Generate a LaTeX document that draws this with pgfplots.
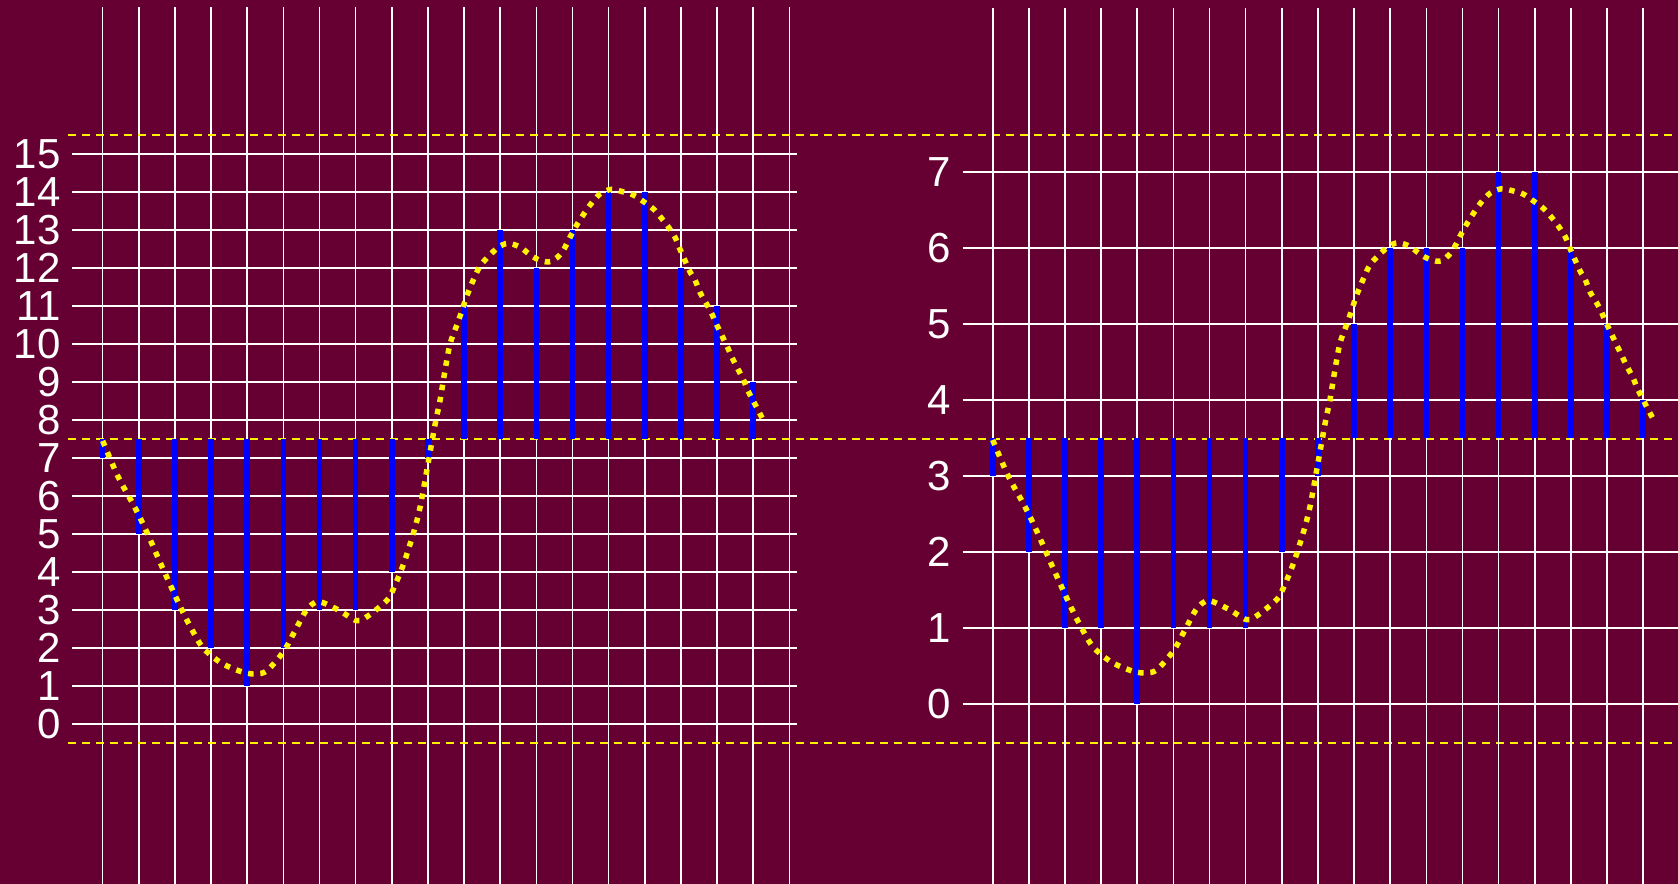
\documentclass[border=0pt]{standalone}
\usepackage{fontspec}
\setmainfont{Liberation Sans}
\usepackage{pgfplots}
\pgfplotsset{compat=1.18}
\usepackage{pgfplotstable}
\definecolor{bgcol}{RGB}{102,0,51}

\pgfplotstableread{
i v
0 7
1 5
2 3
3 2
4 1
5 2
6 3
7 3
8 4
9 7
10 11
11 13
12 12
13 13
14 14
15 14
16 12
17 11
18 9
}\leftbars

\pgfplotstableread{
i v
0 3
1 2
2 1
3 1
4 0
5 1
6 1
7 1
8 2
9 3
10 5
11 6
12 6
13 6
14 7
15 7
16 6
17 5
18 4
}\rightbars

\pgfplotstableread{
x y
0.0 7.45
0.43 6.5
0.89 5.7
1.22 5.05
1.59 4.25
2.14 3.1
2.46 2.5
2.78 2.0
3.29 1.6
3.89 1.36
4.24 1.32
4.54 1.4
5.0 1.9
5.32 2.45
5.64 3.0
5.97 3.22
6.52 3.0
7.03 2.72
7.35 2.85
7.86 3.25
8.04 3.55
8.32 4.2
8.59 5.0
8.78 5.7
9.01 6.9
9.2 7.9
9.33 8.5
9.47 9.3
9.61 10.0
9.8 10.5
9.93 10.85
10.07 11.25
10.26 11.7
10.44 12.05
10.67 12.3
10.95 12.55
11.22 12.65
11.55 12.55
11.82 12.35
12.1 12.2
12.4 12.17
12.7 12.4
12.98 12.9
13.16 13.2
13.48 13.65
13.76 13.95
14.08 14.07
14.41 14.0
14.68 13.92
14.96 13.75
15.24 13.55
15.47 13.3
15.65 13.08
15.84 12.8
15.97 12.5
16.25 11.9
16.39 11.68
16.53 11.35
16.71 11.05
16.85 10.8
16.99 10.5
17.27 9.95
17.41 9.65
17.54 9.4
17.71 9.1
17.84 8.8
18.0 8.5
18.14 8.25
18.3 7.95
}\leftcurve

\pgfplotstableread{
x y
0.0 3.475
0.43 3.0
0.89 2.6
1.22 2.275
1.59 1.875
2.14 1.3
2.46 1.0
2.78 0.75
3.29 0.55
3.89 0.43
4.24 0.41
4.54 0.45
5.0 0.7
5.32 0.975
5.64 1.25
5.97 1.36
6.52 1.25
7.03 1.11
7.35 1.175
7.86 1.375
8.04 1.525
8.32 1.85
8.59 2.25
8.78 2.6
9.01 3.2
9.2 3.7
9.33 4.0
9.47 4.4
9.61 4.75
9.8 5.0
9.93 5.18
10.07 5.38
10.26 5.6
10.44 5.78
10.67 5.9
10.95 6.02
11.22 6.07
11.55 6.02
11.82 5.92
12.1 5.85
12.4 5.83
12.7 5.95
12.98 6.2
13.16 6.35
13.48 6.58
13.76 6.72
14.08 6.78
14.41 6.75
14.68 6.71
14.96 6.62
15.24 6.52
15.47 6.4
15.65 6.29
15.84 6.15
15.97 6.0
16.25 5.7
16.39 5.59
16.53 5.42
16.71 5.28
16.85 5.15
16.99 5.0
17.27 4.72
17.41 4.58
17.54 4.45
17.71 4.3
17.84 4.15
18.0 4.0
18.14 3.87
18.3 3.73
}\rightcurve

\pgfplotsset{
  panel/.style={
    anchor=south west,
    scale only axis,
    width=362.5pt, height=438.25pt,
    xtick={0,...,19}, xticklabels={},
    grid=major,
    grid style={white, line width=0.8pt},
    axis line style={draw=none},
    major tick length=0pt,
    yticklabel style={font=\fontsize{21}{25}\selectfont, text=white,
      xshift=-2.2pt, inner ysep=0pt},
    /pgf/number format/assume math mode=true,
    clip=false,
  },
  bars/.style={blue, line width=2.8pt},
  curve/.style={yellow, line width=2.75pt, smooth, dash pattern=on 2.75pt off 3.4pt},
  ref/.style={yellow, line width=1pt, dash pattern=on 4pt off 3pt},
}

\begin{document}
\begin{tikzpicture}
\path[use as bounding box] (0,0) rectangle (839pt,442pt);
\fill[bgcol] (0,0) rectangle (839pt,442pt);
\clip (0,0) rectangle (839pt,442pt);

\begin{axis}[panel, at={(36pt,0pt)},
  xmin=-0.849, xmax=19.21, ymin=-4.21, ymax=18.855,
  ytick={0,...,15}]
  \addplot[ref] coordinates {(-0.96,15.5) (43.42,15.5)};
  \addplot[ref] coordinates {(-0.96,7.5) (43.42,7.5)};
  \addplot[ref] coordinates {(-0.96,-0.5) (43.42,-0.5)};
  \addplot[bars, quiver={u=0, v=\thisrow{v}-7.5}] table[x=i, y expr=7.5] {\leftbars};
  \addplot[curve] table[x=x, y=y] {\leftcurve};
\end{axis}

\begin{axis}[panel, at={(481.35pt,0pt)},
  xmin=-0.83, xmax=19.23, ymin=-2.368, ymax=9.165,
  ytick={0,...,7}]
  \addplot[bars, quiver={u=0, v=\thisrow{v}-3.5}] table[x=i, y expr=3.5] {\rightbars};
  \addplot[curve] table[x=x, y=y] {\rightcurve};
\end{axis}
\end{tikzpicture}
\end{document}
